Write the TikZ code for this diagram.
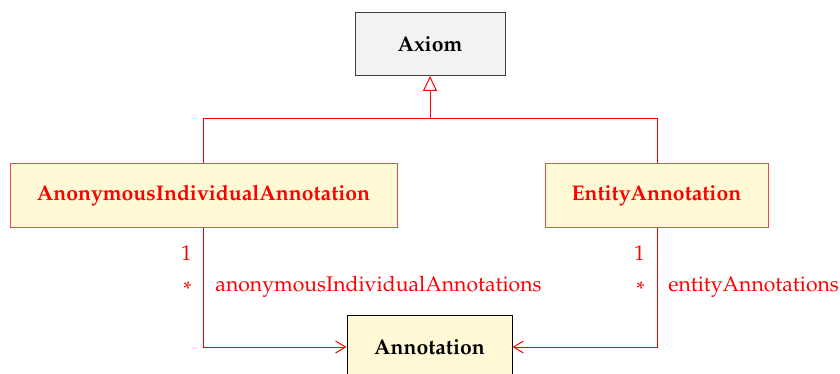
\documentclass[tikz,border=0pt]{standalone}
\IfFileExists{mathpazo.sty}{\usepackage[T1]{fontenc}\usepackage{mathpazo}}{}
\usetikzlibrary{arrows.meta}
\definecolor{boxgray}{HTML}{F2F2F2}
\definecolor{boxyellow}{HTML}{FFFAD5}
\definecolor{boxred}{HTML}{F04848}
\definecolor{linered}{HTML}{FF0000}
\tikzset{
  cls/.style={draw, line width=0.5pt, inner sep=0pt, font=\fontsize{10.6}{13}\selectfont\bfseries},
  axiomcls/.style={cls, fill=boxgray, draw=black!75, minimum width=75pt, minimum height=31.5pt},
  subcls/.style={cls, fill=boxyellow, draw=boxred, text=linered, minimum height=32pt},
  targetcls/.style={cls, fill=boxyellow, draw=black, minimum width=82.5pt, minimum height=32pt},
  conn/.style={draw=linered, line width=0.5pt},
  genarrow/.style={conn, -{Triangle[open, length=7.5pt, width=7pt]}},
  assocarrow/.style={conn, -{Straight Barb[length=5pt, width=6pt]}},
  lbl/.style={text=linered, inner sep=0pt, font=\fontsize{10.6}{13}\selectfont}
}
\begin{document}
\begin{tikzpicture}[x=0.5pt, y=-0.5pt]
\useasboundingbox (0,0) rectangle (840,374);
\begin{scope}
\clip (0,0) rectangle (840,374);
\node[axiomcls] (axiom) at (430,44) {Axiom};
\node[subcls, minimum width=193.5pt] (anon) at (203.5,195.5) {AnonymousIndividualAnnotation};
\node[subcls, minimum width=111.5pt] (entity) at (656.5,195.5) {EntityAnnotation};
\node[targetcls] (annot) at (429.5,347) {Annotation};
\end{scope}
\coordinate (jn) at (430,119);
\coordinate (jl) at (203,119);
\coordinate (jr) at (657,119);
\coordinate (cl) at (203,347);
\coordinate (cr) at (657,347);
\draw[genarrow] (jn) -- (axiom.south);
\draw[conn] (anon.north -| jl) -- (jl) -- (jr) -- (entity.north -| jr);
\draw[assocarrow] (anon.south -| cl) -- (cl) -- (annot.west |- cl);
\draw[assocarrow] (entity.south -| cr) -- (cr) -- (annot.east |- cr);
\node[lbl, anchor=east] (m1) at (192,253) {1};
\node[lbl, anchor=east] (m2) at (192,289) {*};
\node[lbl, anchor=west] (r1) at (215,287) {anonymousIndividualAnnotations};
\node[lbl, anchor=east] (m3) at (645,253) {1};
\node[lbl, anchor=east] (m4) at (645,289) {*};
\node[lbl, anchor=west] (r2) at (668,287) {entityAnnotations};
\end{tikzpicture}
\end{document}
